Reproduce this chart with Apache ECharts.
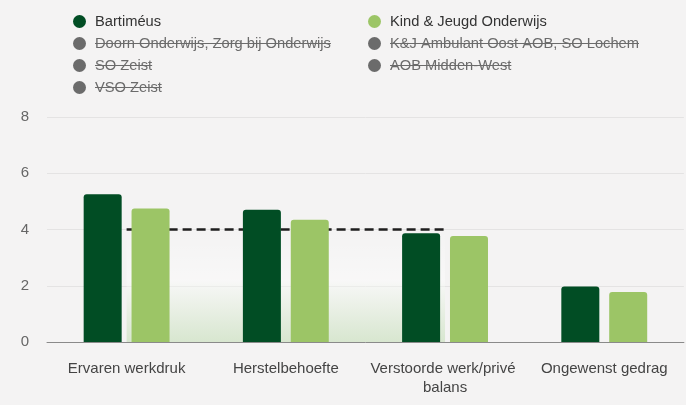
<!DOCTYPE html>
<html>
<head>
<meta charset="utf-8">
<script src="https://cdn.jsdelivr.net/npm/echarts@6/dist/echarts.min.js"></script>
<style>
  html, body { margin: 0; padding: 0; background: #f4f3f3; }
  #chart { width: 686px; height: 405px; }
</style>
</head>
<body>
<div id="chart"></div>
<script>
// categorieën en waarden
const categories = ["Ervaren werkdruk", "Herstelbehoefte", "Verstoorde werk/privé balans", "Ongewenst gedrag"];
const bartimeus = [5.25, 4.7, 3.87, 1.97];
const kindJeugd = [4.75, 4.35, 3.77, 1.78];
const benchmark = [4, 4, 4, null];
const yTicks = { min: 0, max: 8, interval: 2 };

// legenda: twee kolommen, verborgen series doorgestreept
const legendLeft = ["Bartiméus", "Doorn Onderwijs, Zorg bij Onderwijs", "SO Zeist", "VSO Zeist"];
const legendRight = ["Kind & Jeugd Onderwijs", "K&J Ambulant Oost AOB, SO Lochem", "AOB Midden-West"];
const hiddenSeries = ["Doorn Onderwijs, Zorg bij Onderwijs", "SO Zeist", "VSO Zeist", "K&J Ambulant Oost AOB, SO Lochem", "AOB Midden-West"];

const FONT = "Liberation Sans, Arial, Helvetica, sans-serif";
const DARK = "#014d24";
const LIGHT = "#9cc566";
const LEGEND_FS = 14.7;

const chart = echarts.init(document.getElementById("chart"));

const selected = {};
hiddenSeries.forEach((n) => (selected[n] = false));

const legendBase = {
  orient: "vertical",
  top: 14,
  padding: 0,
  itemWidth: 13,
  itemHeight: 13,
  itemGap: 7,
  icon: "circle",
  selected: selected,
  inactiveColor: "#6b6b6b",
  textStyle: { fontFamily: FONT, fontSize: LEGEND_FS, color: "#333", lineHeight: 15, padding: [0, 0, 0, 4] },
};

// doorstreeplijnen voor uitgeschakelde legenda-items
const measure = document.createElement("canvas").getContext("2d");
measure.font = LEGEND_FS + "px " + FONT;
const strikes = [];
[[legendLeft, 73], [legendRight, 368]].forEach(([names, left]) => {
  names.forEach((n, i) => {
    if (selected[n] === false) {
      const x0 = left + 13 + 5 + 4;
      const w = measure.measureText(n).width;
      const y = 14 + 7.5 + i * 22;
      strikes.push({
        type: "line",
        silent: true,
        shape: { x1: x0, y1: y, x2: x0 + w, y2: y },
        style: { stroke: "#6b6b6b", lineWidth: 1.2 },
        z: 100,
      });
    }
  });
});

const option = {
  backgroundColor: "#f4f3f3",
  animation: false,
  textStyle: { fontFamily: FONT },
  legend: [
    Object.assign({}, legendBase, { left: 73, data: legendLeft }),
    Object.assign({}, legendBase, { left: 368, data: legendRight }),
  ],
  graphic: strikes,
  grid: { left: 47, right: 0, top: 117, bottom: 63, containLabel: false },
  xAxis: {
    type: "category",
    data: categories,
    axisTick: { show: false },
    axisLine: { lineStyle: { color: "#8a8a8a", width: 1 } },
    axisLabel: {
      fontSize: 15,
      color: "#444",
      margin: 17,
      lineHeight: 19,
      width: 158,
      overflow: "break",
      interval: 0,
    },
  },
  yAxis: {
    type: "value",
    min: yTicks.min,
    max: yTicks.max,
    interval: yTicks.interval,
    axisLine: { show: false },
    axisTick: { show: false },
    axisLabel: { fontSize: 15, color: "#666", margin: 18 },
    splitLine: { lineStyle: { color: "#e4e3e3", width: 1 } },
  },
  series: [
    {
      name: "benchmark",
      type: "line",
      data: benchmark,
      symbol: "none",
      z: 1,
      lineStyle: { color: "#1e1e1e", width: 2.4, type: [9, 5] },
      areaStyle: {
        color: {
          type: "linear",
          x: 0, y: 0, x2: 0, y2: 1,
          colorStops: [
            { offset: 0, color: "rgba(255,255,255,0)" },
            { offset: 0.45, color: "rgba(255,255,255,0.55)" },
            { offset: 1, color: "rgba(170,210,150,0.55)" },
          ],
        },
      },
    },
    {
      name: "Bartiméus",
      type: "bar",
      data: bartimeus,
      barWidth: 38,
      barGap: "26%",
      z: 3,
      itemStyle: { color: DARK, borderRadius: [3, 3, 0, 0] },
    },
    {
      name: "Kind & Jeugd Onderwijs",
      type: "bar",
      data: kindJeugd,
      barWidth: 38,
      barGap: "26%",
      z: 3,
      itemStyle: { color: LIGHT, borderRadius: [3, 3, 0, 0] },
    },
    // uitgeschakelde series (alleen legenda)
    ...hiddenSeries.map((n) => ({ name: n, type: "bar", data: [], itemStyle: { color: "#6b6b6b" } })),
  ],
};

chart.setOption(option, true);
window.addEventListener("resize", () => chart.resize());
</script>
</body>
</html>
